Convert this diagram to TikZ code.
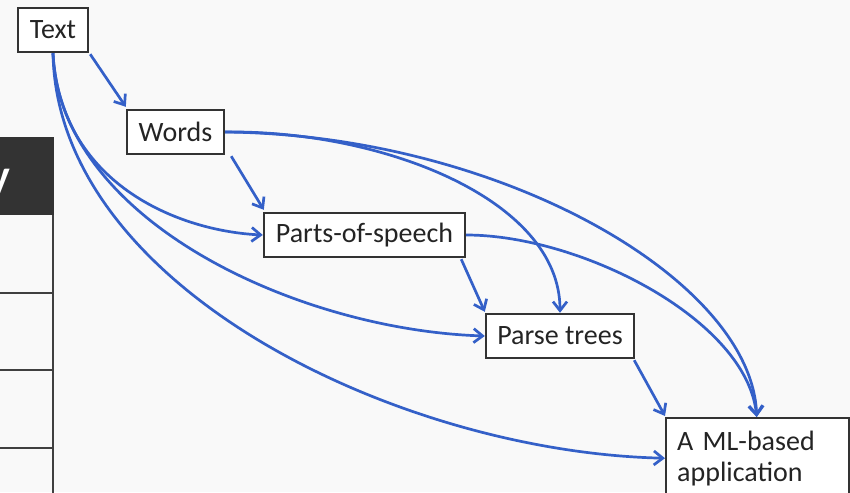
\documentclass[tikz,border=0pt]{standalone}
\usepackage{fontspec}
\setmainfont{Carlito}
\setsansfont{Carlito}
\usetikzlibrary{arrows.meta}
\definecolor{pagebg}{RGB}{249,249,249}
\definecolor{boxline}{RGB}{51,51,51}
\definecolor{flow}{RGB}{52,96,200}
\definecolor{tablehead}{RGB}{51,51,51}
\definecolor{tablerule}{RGB}{64,64,64}
\begin{document}
\begin{tikzpicture}[x=1pt,y=-1pt,
  stage/.style={draw=boxline,line width=2.4pt,fill=white,inner sep=0pt,
    font=\fontsize{28}{31}\selectfont,text=boxline!70!black},
  flowarrow/.style={draw=flow,line width=2.7pt,
    -{Straight Barb[length=9pt,width=14pt]}},
  gridrule/.style={draw=tablerule,line width=1.6pt}]
% page
\useasboundingbox[fill=pagebg] (0,0) rectangle (850,492);

% partly visible table at the left edge
\fill[tablehead] (0,137) rectangle (54,215);
\node[text=white,font=\sffamily\bfseries\fontsize{44}{44}\selectfont,
  anchor=base east,inner sep=0pt] (hdr) at (11,190) {y};
\draw[gridrule] (53,215) -- (53,495);
\draw[gridrule] (0,293) -- (53,293);
\draw[gridrule] (0,370) -- (53,370);
\draw[gridrule] (0,448) -- (53,448);

% processing stages
\node[stage,minimum width=70pt,minimum height=44pt] (txt) at (53,30) {Text};
\node[stage,minimum width=97pt,minimum height=44pt] (wrd) at (175.5,132) {Words};
\node[stage,minimum width=201pt,minimum height=44pt] (pos) at (364.5,235) {Parts-of-speech};
\node[stage,minimum width=148pt,minimum height=44pt] (prs) at (560,336) {Parse trees};
\node[stage,anchor=north west,minimum height=80pt,inner xsep=11pt,
  text width=161pt,align=left] (app) at (665,417) {A ML-based\\application};

% direct successors
\draw[flowarrow] ([shift={(1,1)}]txt.south east) -- ([shift={(0,-2)}]wrd.north west);
\draw[flowarrow] ([shift={(6,1)}]wrd.south east) -- ([shift={(1,-2)}]pos.north west);
\draw[flowarrow] ([shift={(-5,1)}]pos.south east) -- ([shift={(0,-1)}]prs.north west);
\draw[flowarrow] ([shift={(-1,1)}]prs.south east) -- ([shift={(0,-1)}]app.north west);

% from Text
\draw[flowarrow] (txt.south) .. controls +(7,130) and +(-85,-4) .. (pos.west);
\draw[flowarrow] (txt.south) .. controls +(7,168) and +(-186,-6) .. (prs.west);
\draw[flowarrow] (txt.south) .. controls +(4,235) and +(-265,-6) .. (app.west);

% from Words
\draw[flowarrow] (wrd.east) .. controls +(156,-2) and +(0,-114) .. (prs.north);
\draw[flowarrow] (wrd.east) .. controls +(276,3) and +(-5,-137) .. ([xshift=-1]app.north);

% from Parts-of-speech
\draw[flowarrow] (pos.east) .. controls +(115,0) and +(-10,-97) .. ([xshift=-1]app.north);
\end{tikzpicture}
\end{document}
